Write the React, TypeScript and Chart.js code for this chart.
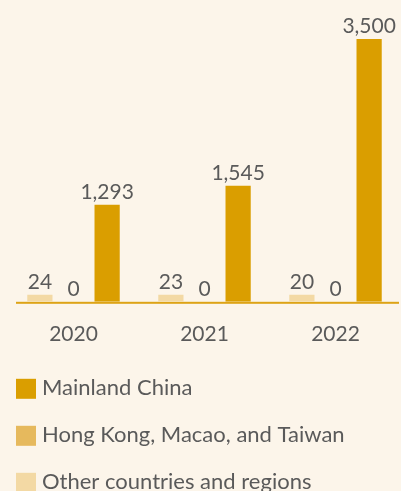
import React, { useEffect, useRef } from 'react';
import { Chart, registerables } from 'chart.js';

Chart.register(...registerables);

const years: string[] = ['2020', '2021', '2022'];
const seriesNames: string[] = [
  'Other countries and regions',
  'Hong Kong, Macao, and Taiwan',
  'Mainland China',
];
const otherValues: number[] = [24, 23, 20];
const hkValues: number[] = [0, 0, 0];
const mainlandValues: number[] = [1293, 1545, 3500];
const seriesColors: string[] = ['#F3D9A4', '#E6B95D', '#DA9E00'];

const FONT_FAMILY = 'Lato, "Source Sans Pro", "Noto Sans", sans-serif';
const TEXT_COLOR = '#5a5a5a';
const BG = '#FCF5EA';

const valueLabels = {
  id: 'valueLabels',
  afterDatasetsDraw(chart: any) {
    const { ctx } = chart;
    ctx.save();
    ctx.font = `21px ${FONT_FAMILY}`;
    ctx.fillStyle = TEXT_COLOR;
    ctx.textAlign = 'center';
    ctx.textBaseline = 'alphabetic';
    chart.data.datasets.forEach((ds: any, di: number) => {
      const meta = chart.getDatasetMeta(di);
      meta.data.forEach((el: any, i: number) => {
        const v = ds.data[i] as number;
        ctx.fillText(v.toLocaleString('en-US'), el.x, el.y - 6);
      });
    });
    ctx.restore();
  },
};

const baseLine = {
  id: 'baseLine',
  beforeDatasetsDraw(chart: any) {
    const { ctx, chartArea } = chart;
    ctx.save();
    ctx.fillStyle = '#DDA316';
    ctx.fillRect(chartArea.left + 8, chartArea.bottom, chartArea.right - chartArea.left - 10, 2);
    ctx.restore();
  },
};

const bottomLegend = {
  id: 'bottomLegend',
  afterDraw(chart: any) {
    const { ctx, chartArea } = chart;
    const datasets = chart.data.datasets.slice().reverse();
    ctx.save();
    ctx.font = `22px ${FONT_FAMILY}`;
    ctx.textAlign = 'left';
    ctx.textBaseline = 'alphabetic';
    datasets.forEach((ds: any, i: number) => {
      const top = chartArea.bottom + 77 + i * 47;
      ctx.fillStyle = ds.backgroundColor;
      ctx.fillRect(16, top, 20, 20);
      ctx.fillStyle = TEXT_COLOR;
      ctx.fillText(ds.label, 42, top + 16);
    });
    ctx.restore();
  },
};

export default function App() {
  const canvasRef = useRef<HTMLCanvasElement | null>(null);

  useEffect(() => {
    document.body.style.background = BG;
    const canvas = canvasRef.current;
    if (!canvas) return;
    const chart = new Chart(canvas, {
      type: 'bar',
      data: {
        labels: years,
        datasets: [
          {
            label: seriesNames[0],
            data: otherValues,
            backgroundColor: seriesColors[0],
            minBarLength: 7,
          },
          {
            label: seriesNames[1],
            data: hkValues,
            backgroundColor: seriesColors[1],
          },
          {
            label: seriesNames[2],
            data: mainlandValues,
            backgroundColor: seriesColors[2],
          },
        ],
      },
      options: {
        animation: false,
        responsive: true,
        maintainAspectRatio: false,
        layout: { padding: { top: 39, left: 8, right: 0, bottom: 124 } },
        datasets: {
          bar: { categoryPercentage: 0.77, barPercentage: 0.75 },
        },
        plugins: {
          legend: { display: false },
          tooltip: { enabled: false },
        },
        scales: {
          x: {
            grid: { display: false, drawTicks: false },
            border: { display: false },
            ticks: {
              color: TEXT_COLOR,
              font: { family: FONT_FAMILY, size: 21 },
              padding: 20,
            },
          },
          y: {
            display: false,
            min: 0,
            max: 3500,
          },
        },
      },
      plugins: [baseLine, valueLabels, bottomLegend],
    });
    return () => chart.destroy();
  }, []);

  return (
    <div
      style={{
        position: 'absolute',
        left: 0,
        top: 0,
        width: 401,
        height: 491,
        background: BG,
        overflow: 'hidden',
      }}
    >
      <canvas ref={canvasRef} />
    </div>
  );
}
